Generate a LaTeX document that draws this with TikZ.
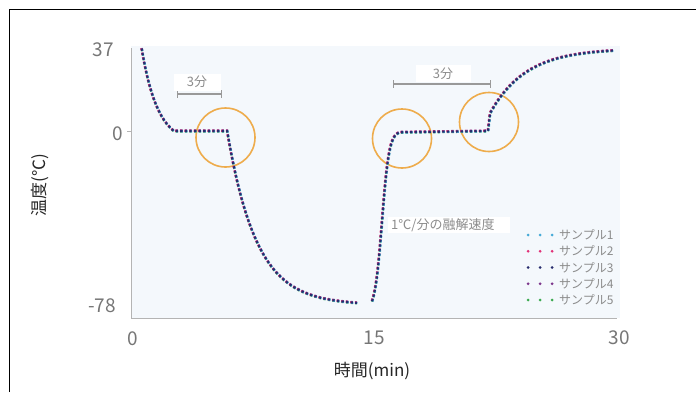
\documentclass[tikz,border=0pt]{standalone}
\usepackage{fontspec}
\setmainfont{Noto Sans CJK JP}
\usetikzlibrary{positioning}
\definecolor{plotbg}{RGB}{244,248,252}
\definecolor{axisgray}{RGB}{180,180,180}
\definecolor{tickgray}{RGB}{118,118,118}
\definecolor{notegray}{RGB}{140,140,140}
\definecolor{ringor}{RGB}{238,172,76}
\definecolor{c1}{RGB}{70,170,215}
\definecolor{c2}{RGB}{225,50,120}
\definecolor{c3}{RGB}{40,45,110}
\definecolor{c4}{RGB}{125,55,140}
\definecolor{c5}{RGB}{60,170,80}
\tikzset{
	ticklbl/.style={text=tickgray, inner sep=0pt, font=\fontsize{19}{19}\selectfont},
	axlbl/.style={text=black!85, inner sep=0pt, font=\fontsize{17}{17}\selectfont},
	ring/.style={circle, draw=ringor, line width=1.6pt, minimum size=59pt, inner sep=0pt},
	note/.style={fill=white, text=notegray, inner sep=1pt, font=\fontsize{13}{13}\selectfont},
	smp/.style={line width=2.1pt, dash pattern=on 2.3pt off 2.3pt},
	legdot/.style={line width=3pt, line cap=round, dash pattern=on 0pt off 12pt},
	legtxt/.style={text=notegray, inner sep=0pt, anchor=west, font=\fontsize{12}{12}\selectfont}
}
\begin{document}
\begin{tikzpicture}[x=1pt, y=1pt]
	\useasboundingbox (0,0) rectangle (696,392);
	%rahmen
	\draw[line width=0.9pt] (9.3,0) -- (9.3,382.7) -- (696,382.7);
	%plotflaeche
	\fill[plotbg] (131,74) rectangle (620,346);
	\draw[axisgray, line width=1pt] (131,344) -- (131,74) -- (617,74);
	\draw[axisgray] (127,261) -- (131,261);
	%
	\node[ring] (r1) at (225.5,254.5) {};
	\node[ring] (r2) at (402,253.5) {};
	\node[ring] (r3) at (489,270) {};
	%kurven
	\begin{scope}[shift={(132,261)}, x=16.13pt, y=2.23pt]
		\draw[smp, c5, yshift=-0.5pt] plot[domain=0.6:2.6, samples=30] (\x, {42.8*exp(-(\x-0.6))-5.8}) -- (5.9,0) -- plot[domain=5.9:13.95, samples=60] (\x, {-78+78*exp(-0.55*(\x-5.9))})
			plot[domain=14.88:16.6, samples=30] (\x, {-81/(1+exp(4.5*(\x-15.5)))}) -- (22.07,0) -- plot[domain=22.2:29.85, samples=60] (\x, {37-29*exp(-0.45*(\x-22.2))});
		\draw[smp, c4, yshift=0.5pt] plot[domain=0.6:2.6, samples=30] (\x, {42.8*exp(-(\x-0.6))-5.8}) -- (5.9,0) -- plot[domain=5.9:13.95, samples=60] (\x, {-78+78*exp(-0.55*(\x-5.9))})
			plot[domain=14.88:16.6, samples=30] (\x, {-81/(1+exp(4.5*(\x-15.5)))}) -- (22.07,0) -- plot[domain=22.2:29.85, samples=60] (\x, {37-29*exp(-0.45*(\x-22.2))});
		\draw[smp, c2, xshift=-0.4pt, yshift=0.3pt] plot[domain=0.6:2.6, samples=30] (\x, {42.8*exp(-(\x-0.6))-5.8}) -- (5.9,0) -- plot[domain=5.9:13.95, samples=60] (\x, {-78+78*exp(-0.55*(\x-5.9))})
			plot[domain=14.88:16.6, samples=30] (\x, {-81/(1+exp(4.5*(\x-15.5)))}) -- (22.07,0) -- plot[domain=22.2:29.85, samples=60] (\x, {37-29*exp(-0.45*(\x-22.2))});
		\draw[smp, c1, xshift=0.4pt, yshift=-0.3pt] plot[domain=0.6:2.6, samples=30] (\x, {42.8*exp(-(\x-0.6))-5.8}) -- (5.9,0) -- plot[domain=5.9:13.95, samples=60] (\x, {-78+78*exp(-0.55*(\x-5.9))})
			plot[domain=14.88:16.6, samples=30] (\x, {-81/(1+exp(4.5*(\x-15.5)))}) -- (22.07,0) -- plot[domain=22.2:29.85, samples=60] (\x, {37-29*exp(-0.45*(\x-22.2))});
		\draw[smp, c3] plot[domain=0.6:2.6, samples=30] (\x, {42.8*exp(-(\x-0.6))-5.8}) -- (5.9,0) -- plot[domain=5.9:13.95, samples=60] (\x, {-78+78*exp(-0.55*(\x-5.9))})
			plot[domain=14.88:16.6, samples=30] (\x, {-81/(1+exp(4.5*(\x-15.5)))}) -- (22.07,0) -- plot[domain=22.2:29.85, samples=60] (\x, {37-29*exp(-0.45*(\x-22.2))});
	\end{scope}
	%achsen
	\node[ticklbl, anchor=east] (y37) at (114,342) {37};
	\node[ticklbl, anchor=east] (y0) at (123,258) {0};
	\node[ticklbl, anchor=east] (y78) at (116,86) {-78};
	\node[ticklbl] (x0) at (133,53.5) {0};
	\node[ticklbl] (x15) at (374.5,54) {15};
	\node[ticklbl] (x30) at (619.5,54.5) {30};
	\node[axlbl, rotate=90] (ytitle) at (40,207) {温度(℃)};
	\node[axlbl] (xtitle) at (372,21) {時間(min)};
	%3 min
	\coordinate (b1a) at (176.5,298);
	\coordinate (b1b) at (222,298);
	\draw[axisgray!85!black, line width=1.2pt, |-|] (b1a) -- (b1b);
	\node[note, minimum width=47pt, minimum height=17pt] (t1) at (197,310) {3分};
	\coordinate (b2a) at (393,308);
	\coordinate (b2b) at (491,308);
	\draw[axisgray!85!black, line width=1.2pt, |-|] (b2a) -- (b2b);
	\node[note, minimum width=55pt, minimum height=17pt] (t2) at (443,318.5) {3分};
	\node[note, anchor=west, text width=116pt, inner xsep=3pt, minimum height=16pt] (rate) at (388,167) {1℃/分の融解速度};
	%legende
	\node[legtxt] (l1) at (559,157) {サンプル1};
	\node[legtxt] (l2) at (559,140.75) {サンプル2};
	\node[legtxt] (l3) at (559,124.5) {サンプル3};
	\node[legtxt] (l4) at (559,108.25) {サンプル4};
	\node[legtxt] (l5) at (559,92) {サンプル5};
	\coordinate (d1) at (528,157);
	\coordinate (d2) at (528,140.75);
	\coordinate (d3) at (528,124.5);
	\coordinate (d4) at (528,108.25);
	\coordinate (d5) at (528,92);
	\draw[legdot, c1] (d1) -- (l1.west);
	\draw[legdot, c2] (d2) -- (l2.west);
	\draw[legdot, c3] (d3) -- (l3.west);
	\draw[legdot, c4] (d4) -- (l4.west);
	\draw[legdot, c5] (d5) -- (l5.west);
\end{tikzpicture}
\end{document}
